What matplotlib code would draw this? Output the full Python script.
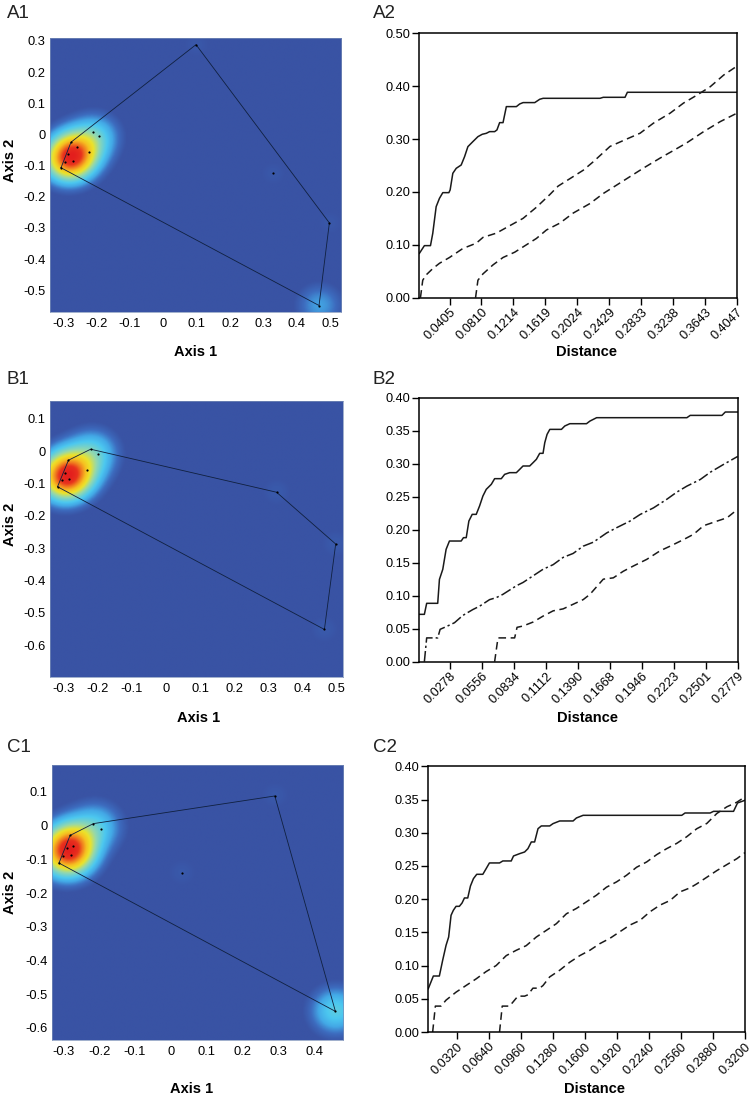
import numpy as np
import matplotlib
matplotlib.use("Agg")
import matplotlib.pyplot as plt
from matplotlib.colors import LinearSegmentedColormap

plt.rcParams['font.family'] = ['Liberation Sans', 'DejaVu Sans']
plt.rcParams['axes.unicode_minus'] = False

# ---------------- ordination points (Axis 1, Axis 2) and number of coincident sites ----------------
A1_x = [0.098, 0.498, 0.467, -0.307, -0.277, -0.212, -0.192, -0.260, -0.222, -0.285, -0.294, -0.272, 0.328]
A1_y = [0.288, -0.284, -0.549, -0.107, -0.025, 0.008, -0.006, -0.042, -0.057, -0.064, -0.087, -0.084, -0.125]
A1_w = [1, 1, 3, 1, 1, 2, 2, 2, 2, 6, 3, 6, 1]

B1_x = [-0.220, 0.324, 0.497, 0.464, -0.317, -0.285, -0.200, -0.232, -0.294, -0.282, -0.305]
B1_y = [0.006, -0.127, -0.287, -0.551, -0.110, -0.028, -0.008, -0.059, -0.067, -0.085, -0.089]
B1_w = [2, 1, 1, 1, 1, 1, 2, 2, 6, 6, 3]

C1_x = [-0.216, 0.290, 0.459, -0.312, -0.281, -0.196, 0.030, -0.274, -0.291, -0.279, -0.300]
C1_y = [0.006, 0.088, -0.551, -0.111, -0.029, -0.009, -0.141, -0.060, -0.066, -0.086, -0.090]
C1_w = [2, 1, 5, 1, 1, 2, 1, 3, 6, 6, 2]

# ---------------- distance curves ----------------
A2_obs_x = [0.0024, 0.0087, 0.0164, 0.0193, 0.0236, 0.0278, 0.0320, 0.0397, 0.0413, 0.0447, 0.0490, 0.0553,
            0.0596, 0.0638, 0.0701, 0.0765, 0.0820, 0.0871, 0.0913, 0.0977, 0.1006, 0.1040, 0.1083, 0.1125,
            0.1252, 0.1294, 0.1337, 0.1485, 0.1548, 0.1591, 0.2311, 0.2353, 0.2628, 0.2658, 0.4047]
A2_obs_y = [0.0839, 0.0984, 0.0984, 0.1217, 0.1721, 0.1879, 0.1986, 0.1986, 0.2037, 0.2352, 0.2446, 0.2509,
            0.2667, 0.2856, 0.2951, 0.3045, 0.3090, 0.3108, 0.3140, 0.3140, 0.3172, 0.3310, 0.3310, 0.3613,
            0.3613, 0.3663, 0.3689, 0.3689, 0.3752, 0.3770, 0.3770, 0.3789, 0.3789, 0.3884, 0.3884]
A2_up_x = [0.0037, 0.0066, 0.0109, 0.0193, 0.0278, 0.0405, 0.0574, 0.0744, 0.0829, 0.0998, 0.1167, 0.1337,
           0.1506, 0.1676, 0.1781, 0.1972, 0.2099, 0.2226, 0.2438, 0.2650, 0.2819, 0.2988, 0.3200, 0.3369,
           0.3539, 0.3708, 0.3878, 0.4047]
A2_up_y = [0.000, 0.033, 0.043, 0.055, 0.065, 0.076, 0.093, 0.103, 0.114, 0.122, 0.136, 0.150,
           0.171, 0.195, 0.211, 0.229, 0.241, 0.257, 0.286, 0.300, 0.311, 0.330, 0.349, 0.368,
           0.383, 0.399, 0.421, 0.438]
A2_lo_x = [0.0735, 0.0765, 0.0829, 0.0956, 0.1083, 0.1231, 0.1337, 0.1506, 0.1633, 0.1803, 0.1972, 0.2184,
           0.2353, 0.2523, 0.2692, 0.2861, 0.3073, 0.3285, 0.3412, 0.3624, 0.3835, 0.4047]
A2_lo_y = [0.000, 0.033, 0.045, 0.062, 0.076, 0.086, 0.096, 0.112, 0.128, 0.141, 0.160, 0.178,
           0.197, 0.213, 0.229, 0.245, 0.264, 0.282, 0.293, 0.314, 0.333, 0.349]

B2_obs_x = [0.0010, 0.0054, 0.0074, 0.0170, 0.0185, 0.0214, 0.0243, 0.0272, 0.0374, 0.0394, 0.0418, 0.0441,
            0.0470, 0.0505, 0.0534, 0.0563, 0.0592, 0.0636, 0.0665, 0.0723, 0.0752, 0.0796, 0.0854, 0.0883,
            0.0912, 0.0970, 0.0999, 0.1028, 0.1057, 0.1086, 0.1101, 0.1121, 0.1145, 0.1246, 0.1275, 0.1319,
            0.1464, 0.1494, 0.1552, 0.2337, 0.2366, 0.2642, 0.2671, 0.2779]
B2_obs_y = [0.0717, 0.0717, 0.0884, 0.0884, 0.1247, 0.1399, 0.1702, 0.1828, 0.1828, 0.1879, 0.1879, 0.2131,
            0.2232, 0.2232, 0.2359, 0.2510, 0.2611, 0.2687, 0.2773, 0.2773, 0.2838, 0.2864, 0.2864, 0.2914,
            0.2965, 0.2965, 0.3015, 0.3066, 0.3157, 0.3157, 0.3318, 0.3444, 0.3520, 0.3520, 0.3571, 0.3606,
            0.3606, 0.3646, 0.3697, 0.3697, 0.3732, 0.3732, 0.3783, 0.3783]
B2_up_x = [0.0054, 0.0074, 0.0170, 0.0191, 0.0243, 0.0316, 0.0388, 0.0476, 0.0534, 0.0621, 0.0679, 0.0737,
           0.0854, 0.0912, 0.0999, 0.1086, 0.1174, 0.1261, 0.1348, 0.1435, 0.1523, 0.1639, 0.1726, 0.1842,
           0.1930, 0.2046, 0.2162, 0.2250, 0.2337, 0.2453, 0.2540, 0.2657, 0.2779]
B2_up_y = [0.000, 0.036, 0.036, 0.049, 0.053, 0.059, 0.070, 0.079, 0.084, 0.094, 0.097, 0.102,
           0.115, 0.120, 0.130, 0.140, 0.147, 0.158, 0.164, 0.175, 0.181, 0.195, 0.203, 0.213,
           0.223, 0.233, 0.246, 0.257, 0.266, 0.276, 0.287, 0.299, 0.311]
B2_lo_x = [0.0665, 0.0694, 0.0839, 0.0860, 0.0912, 0.0999, 0.1086, 0.1174, 0.1261, 0.1348, 0.1435, 0.1494,
           0.1610, 0.1697, 0.1784, 0.1872, 0.1988, 0.2104, 0.2191, 0.2308, 0.2395, 0.2482, 0.2599, 0.2686,
           0.2779]
B2_lo_y = [0.000, 0.036, 0.036, 0.052, 0.054, 0.060, 0.069, 0.077, 0.080, 0.087, 0.094, 0.102,
           0.125, 0.127, 0.137, 0.145, 0.155, 0.168, 0.175, 0.185, 0.193, 0.206, 0.213, 0.218,
           0.231]

C2_obs_x = [0.0032, 0.0059, 0.0083, 0.0143, 0.0176, 0.0210, 0.0236, 0.0260, 0.0283, 0.0310, 0.0343, 0.0370,
            0.0394, 0.0427, 0.0454, 0.0484, 0.0517, 0.0578, 0.0611, 0.0644, 0.0745, 0.0778, 0.0862, 0.0885,
            0.0946, 0.0996, 0.1029, 0.1063, 0.1096, 0.1130, 0.1163, 0.1247, 0.1280, 0.1347, 0.1481, 0.1514,
            0.1581, 0.2568, 0.2601, 0.2852, 0.2886, 0.3086, 0.3126, 0.3200]
C2_obs_y = [0.0652, 0.0753, 0.0843, 0.0843, 0.1079, 0.1305, 0.1430, 0.1757, 0.1832, 0.1892, 0.1892, 0.1942,
            0.2018, 0.2018, 0.2198, 0.2309, 0.2374, 0.2374, 0.2459, 0.2545, 0.2545, 0.2575, 0.2575, 0.2650,
            0.2685, 0.2710, 0.2760, 0.2861, 0.2861, 0.3061, 0.3102, 0.3102, 0.3137, 0.3177, 0.3177, 0.3222,
            0.3262, 0.3262, 0.3297, 0.3297, 0.3322, 0.3322, 0.3448, 0.3488]
C2_up_x = [0.0076, 0.0103, 0.0159, 0.0210, 0.0310, 0.0410, 0.0511, 0.0611, 0.0711, 0.0812, 0.0912, 0.1012,
           0.1113, 0.1213, 0.1313, 0.1414, 0.1514, 0.1615, 0.1715, 0.1815, 0.1916, 0.2016, 0.2116, 0.2217,
           0.2317, 0.2417, 0.2518, 0.2618, 0.2718, 0.2819, 0.2919, 0.3019, 0.3120, 0.3200]
C2_up_y = [0.000, 0.039, 0.039, 0.048, 0.060, 0.070, 0.080, 0.091, 0.100, 0.115, 0.123, 0.130,
           0.143, 0.153, 0.163, 0.178, 0.186, 0.196, 0.206, 0.218, 0.226, 0.236, 0.248, 0.256,
           0.267, 0.276, 0.284, 0.294, 0.306, 0.314, 0.329, 0.339, 0.346, 0.354]
C2_lo_x = [0.0745, 0.0772, 0.0845, 0.0879, 0.0929, 0.0996, 0.1029, 0.1079, 0.1146, 0.1180, 0.1247, 0.1347,
           0.1447, 0.1548, 0.1648, 0.1748, 0.1849, 0.1949, 0.2049, 0.2150, 0.2250, 0.2350, 0.2451, 0.2551,
           0.2651, 0.2718, 0.2819, 0.2919, 0.3019, 0.3120, 0.3200]
C2_lo_y = [0.000, 0.039, 0.039, 0.045, 0.054, 0.054, 0.056, 0.066, 0.066, 0.070, 0.083, 0.093,
           0.105, 0.115, 0.123, 0.133, 0.141, 0.151, 0.161, 0.168, 0.181, 0.191, 0.198, 0.211,
           0.217, 0.223, 0.233, 0.243, 0.252, 0.261, 0.270]

A2_ticks = ['0.0405', '0.0810', '0.1214', '0.1619', '0.2024', '0.2429', '0.2833', '0.3238', '0.3643', '0.4047']
B2_ticks = ['0.0278', '0.0556', '0.0834', '0.1112', '0.1390', '0.1668', '0.1946', '0.2223', '0.2501', '0.2779']
C2_ticks = ['0.0320', '0.0640', '0.0960', '0.1280', '0.1600', '0.1920', '0.2240', '0.2560', '0.2880', '0.3200']

fig = plt.figure(figsize=(7.52, 10.98), dpi=100)

cmap = LinearSegmentedColormap.from_list('dens', [
    (0.00, '#3953a4'), (0.04, '#3953a4'), (0.10, '#3d6cbf'), (0.17, '#43a8e6'), (0.25, '#4cc8f0'),
    (0.40, '#95d8ac'), (0.54, '#ece32a'), (0.66, '#f6c021'), (0.78, '#f07a1f'), (0.88, '#e8321d'),
    (1.00, '#e31e1e')])


def hull(px, py):
    pts = sorted(set(zip(px, py)))
    def cross(o, a, b):
        return (a[0]-o[0])*(b[1]-o[1]) - (a[1]-o[1])*(b[0]-o[0])
    lower, upper = [], []
    for p in pts:
        while len(lower) >= 2 and cross(lower[-2], lower[-1], p) <= 0:
            lower.pop()
        lower.append(p)
    for p in reversed(pts):
        while len(upper) >= 2 and cross(upper[-2], upper[-1], p) <= 0:
            upper.pop()
        upper.append(p)
    h = lower[:-1] + upper[:-1]
    h.append(h[0])
    return [p[0] for p in h], [p[1] for p in h]


def fmt1(v):
    return '0' if abs(v) < 1e-9 else ('%.1f' % v)


def map_panel(rect, px, py, pw, xlim, ylim, xt, yt, xlab_pos, ylab_pos):
    ax = fig.add_axes(rect)
    gx = np.linspace(xlim[0], xlim[1], 400)
    gy = np.linspace(ylim[0], ylim[1], 400)
    X, Y = np.meshgrid(gx, gy)
    D = np.zeros_like(X)
    s = 0.048
    for x, y, w in zip(px, py, pw):
        D += w * np.exp(-((X - x)**2 + (Y - y)**2) / (2 * s * s))
    D /= D.max()
    ax.imshow(D, extent=[xlim[0], xlim[1], ylim[0], ylim[1]], origin='lower',
              cmap=cmap, vmin=0, vmax=1, aspect='auto', interpolation='bilinear')
    hx, hy = hull(px, py)
    ax.plot(hx, hy, color='#10203f', lw=0.6)
    ax.scatter(px, py, s=2.5, color='black', zorder=3, linewidths=0)
    ax.set_xlim(xlim)
    ax.set_ylim(ylim)
    ax.set_xticks(xt)
    ax.set_xticklabels([fmt1(v) for v in xt])
    ax.set_yticks(yt)
    ax.set_yticklabels([fmt1(v) for v in yt])
    ax.tick_params(length=0, labelsize=9.3, pad=4)
    ax.tick_params(axis='y', pad=3)
    for sp in ax.spines.values():
        sp.set_color('#7a8fb8')
        sp.set_linewidth(0.5)
    ax.set_xlabel('Axis 1', fontsize=10.5, fontweight='bold')
    ax.xaxis.set_label_coords(*xlab_pos)
    ax.set_ylabel('Axis 2', fontsize=10.5, fontweight='bold')
    ax.yaxis.set_label_coords(*ylab_pos)
    ax.xaxis.label.set_va('center')
    ax.yaxis.label.set_va('center')
    return ax


def curve_panel(rect, curves, xlim, ticklabels, ylim, ystep, yfmt, xlab_pos):
    ax = fig.add_axes(rect)
    for (cx, cy, ls) in curves:
        ax.plot(cx, cy, color='#1a1a1a', lw=1.1, linestyle=ls, solid_joinstyle='round')
    ax.set_xlim(xlim)
    ax.set_ylim(ylim)
    ax.set_xticks([float(t) for t in ticklabels])
    ax.set_xticklabels(ticklabels, rotation=45, ha='right', rotation_mode='anchor')
    yt = np.arange(ylim[0], ylim[1] + 1e-9, ystep)
    ax.set_yticks(yt)
    ax.set_yticklabels([yfmt % v for v in yt])
    ax.tick_params(direction='out', length=5, width=1.0, labelsize=9.2, pad=1.2)
    for sp in ax.spines.values():
        sp.set_linewidth(1.1)
    ax.set_xlabel('Distance', fontsize=10.5, fontweight='bold')
    ax.xaxis.set_label_coords(*xlab_pos)
    ax.xaxis.label.set_va('center')
    return ax


map_panel([0.0665, 0.7158, 0.387, 0.2495], A1_x, A1_y, A1_w, (-0.34, 0.533), (-0.57, 0.309),
          [-0.3, -0.2, -0.1, 0.0, 0.1, 0.2, 0.3, 0.4, 0.5],
          [-0.5, -0.4, -0.3, -0.2, -0.1, 0.0, 0.1, 0.2, 0.3], (0.5, -0.146), (-0.137, 0.555))
map_panel([0.0665, 0.3834, 0.3892, 0.2514], B1_x, B1_y, B1_w, (-0.339, 0.5175), (-0.698, 0.155),
          [-0.3, -0.2, -0.1, 0.0, 0.1, 0.2, 0.3, 0.4, 0.5],
          [-0.6, -0.5, -0.4, -0.3, -0.2, -0.1, 0.0, 0.1], (0.506, -0.147), (-0.137, 0.554))
map_panel([0.0691, 0.0525, 0.3874, 0.2505], C1_x, C1_y, C1_w, (-0.3316, 0.481), (-0.637, 0.179),
          [-0.3, -0.2, -0.1, 0.0, 0.1, 0.2, 0.3, 0.4],
          [-0.6, -0.5, -0.4, -0.3, -0.2, -0.1, 0.0, 0.1], (0.48, -0.177), (-0.144, 0.539))

dash = (0, (5, 3))
dashdot = (0, (7, 2, 1.5, 2))
curve_panel([0.5568, 0.7289, 0.4233, 0.2408],
            [(A2_obs_x, A2_obs_y, '-'), (A2_up_x, A2_up_y, dash), (A2_lo_x, A2_lo_y, dash)],
            (0.0015, 0.4047), A2_ticks, (0.0, 0.50), 0.10, '%.2f', (0.528, -0.205))
curve_panel([0.5576, 0.3974, 0.4234, 0.2404],
            [(B2_obs_x, B2_obs_y, '-'), (B2_up_x, B2_up_y, dashdot), (B2_lo_x, B2_lo_y, dash)],
            (0.0010, 0.2779), B2_ticks, (0.0, 0.40), 0.05, '%.2f', (0.527, -0.212))
curve_panel([0.5687, 0.0601, 0.4219, 0.2420],
            [(C2_obs_x, C2_obs_y, '-'), (C2_up_x, C2_up_y, dash), (C2_lo_x, C2_lo_y, dash)],
            (0.0026, 0.3200), C2_ticks, (0.0, 0.40), 0.05, '%.2f', (0.525, -0.216))

for lab, x, y in [('A1', 7, 13), ('A2', 373, 13), ('B1', 7, 379), ('B2', 373, 379), ('C1', 7, 748), ('C2', 373, 748)]:
    fig.text(x / 752, 1 - y / 1098, lab, fontsize=13.5, va='center', ha='left', color='#222222')

fig.savefig('out.png', dpi=100)
